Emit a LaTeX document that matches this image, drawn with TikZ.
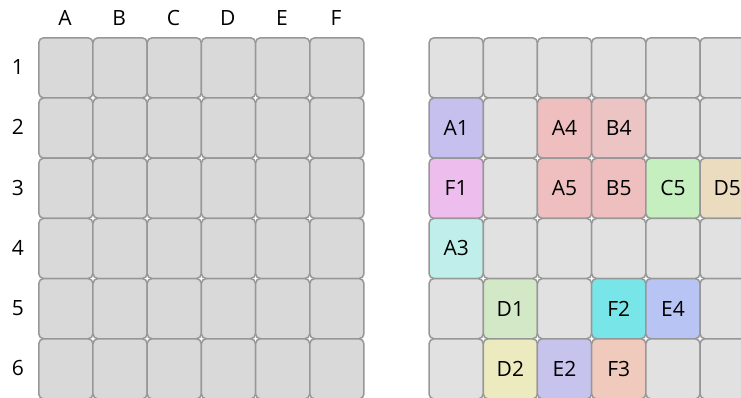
\documentclass[tikz,border=0pt]{standalone}
\usepackage{fontspec}
\setmainfont{Open Sans}
\usepackage{xcolor}
\usetikzlibrary{positioning}
\definecolor{gdline}{HTML}{979797}
\definecolor{gdleft}{HTML}{D9D9D9}
\definecolor{gdright}{HTML}{E1E1E1}
\definecolor{gdtext}{HTML}{000000}
\definecolor{gdlilac}{HTML}{C6C0EE}
\definecolor{gdrose}{HTML}{EFBFBF}
\definecolor{gdblush}{HTML}{ECC4C4}
\definecolor{gdpink}{HTML}{EDBDEE}
\definecolor{gdmint}{HTML}{C6EFC0}
\definecolor{gdsand}{HTML}{ECDCBF}
\definecolor{gdice}{HTML}{C0EEEA}
\definecolor{gdsage}{HTML}{D3E8C7}
\definecolor{gdcyan}{HTML}{78E6E8}
\definecolor{gdperi}{HTML}{B8C4F4}
\definecolor{gdlemon}{HTML}{ECEBC0}
\definecolor{gdlav}{HTML}{C6C3EC}
\definecolor{gdpeach}{HTML}{F0CBBD}
\tikzset{
  gdcell/.style={
    draw=gdline,
    line width=1.5pt,
    rounded corners=5pt,
    minimum width=54.2pt,
    minimum height=60.2pt,
    inner sep=0pt,
    anchor=north west,
    text=gdtext,
    font=\fontsize{21}{21}\selectfont
  },
  gdleftcell/.style={gdcell, fill=gdleft},
  gdrightcell/.style={gdcell, fill=gdright},
  gdhead/.style={text=gdtext, inner sep=0pt, font=\fontsize{21}{21}\selectfont}
}
% coloured cells of the right grid: row, column, text, fill
\newcommand\gdmark[4]{%
  \tikzset{gdfill-#1-#2/.style={fill=#4}}%
  \expandafter\def\csname gdtxt-#1-#2\endcsname{#3}}
\gdmark{2}{1}{A1}{gdlilac}
\gdmark{2}{3}{A4}{gdrose}
\gdmark{2}{4}{B4}{gdblush}
\gdmark{3}{1}{F1}{gdpink}
\gdmark{3}{3}{A5}{gdrose}
\gdmark{3}{4}{B5}{gdrose}
\gdmark{3}{5}{C5}{gdmint}
\gdmark{3}{6}{D5}{gdsand}
\gdmark{4}{1}{A3}{gdice}
\gdmark{5}{2}{D1}{gdsage}
\gdmark{5}{4}{F2}{gdcyan}
\gdmark{5}{5}{E4}{gdperi}
\gdmark{6}{2}{D2}{gdlemon}
\gdmark{6}{3}{E2}{gdlav}
\gdmark{6}{4}{F3}{gdpeach}
\begin{document}
\begin{tikzpicture}[x=1pt, y=-1pt]
\useasboundingbox[fill=white] (0,0) rectangle (741,397);
% left grid with its headers
\foreach \c/\lbl in {1/A,2/B,3/C,4/D,5/E,6/F}
  \node[gdhead] (col-\c) at ({38+54.2*(\c-0.5)}, 18) {\lbl};
\foreach \r in {1,...,6}{
  \node[gdhead] (row-\r) at (18, {37+60.2*(\r-0.5)}) {\r};
  \foreach \c in {1,...,6}
    \node[gdleftcell] (l-\r-\c) at ({38+54.2*(\c-1)}, {37+60.2*(\r-1)}) {};
}
% right grid
\foreach \r in {1,...,6}
  \foreach \c in {1,...,6}
    \node[gdrightcell, gdfill-\r-\c/.try] (r-\r-\c) at ({428.3+54.2*(\c-1)}, {37+60.2*(\r-1)})
      {\csname gdtxt-\r-\c\endcsname};
\end{tikzpicture}
\end{document}
